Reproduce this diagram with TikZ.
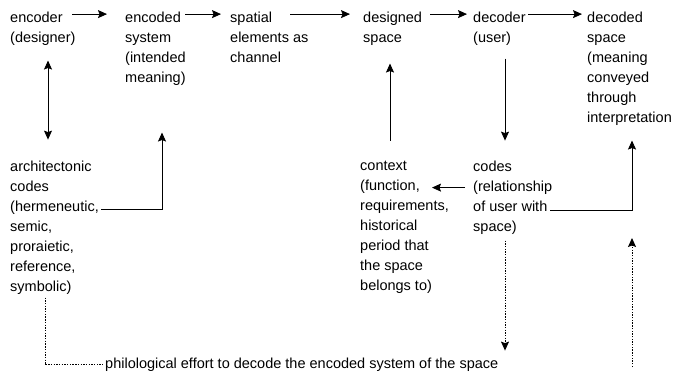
\documentclass[tikz,border=0pt]{standalone}
\usepackage{fontspec}
\setmainfont{Liberation Sans}
\usetikzlibrary{arrows.meta,calc}

\begin{document}
\begin{tikzpicture}[
    x=1pt, y=-1pt,
    term/.style={anchor=north west, align=left, inner sep=0pt,
                 font=\fontsize{14.5}{20}\selectfont},
    arrow/.style={-{Stealth[length=9pt,width=8pt,inset=1.5pt]}, line width=0.8pt},
    twoway/.style={{Stealth[length=9pt,width=8pt,inset=1.5pt]}-{Stealth[length=9pt,width=8pt,inset=1.5pt]}, line width=0.8pt},
    dotline/.style={line width=1pt, dash pattern=on 1.4pt off 1.3pt},
    dotarrow/.style={dotline, -{Stealth[length=9pt,width=8pt,inset=1.5pt]}},
]
\useasboundingbox (0,0) rectangle (683,377);

% Top row: the communication chain
\node[term] (enc)   at (10, 11.6)  {encoder\\(designer)};
\node[term] (sys)   at (125, 11.6) {encoded\\system\\(intended\\meaning)};
\node[term] (chan)  at (230, 11.6) {spatial\\elements as\\channel};
\node[term] (dsp)   at (363, 11.6) {designed\\space};
\node[term] (dec)   at (473, 11.6) {decoder\\(user)};
\node[term] (decsp) at (587, 11.6) {decoded\\space\\(meaning\\conveyed\\through\\interpretation};

\draw[arrow] ([shift={(62,2.5)}]enc.north west) -- ([shift={(-18,2.5)}]sys.north west);
\draw[arrow] ([shift={(60,2.5)}]sys.north west) -- ([shift={(-9,2.5)}]chan.north west);
\draw[arrow] ([shift={(60,2.5)}]chan.north west) -- ([shift={(-13,2.5)}]dsp.north west);
\draw[arrow] ([shift={(67,2.5)}]dsp.north west) -- ([shift={(-6,2.5)}]dec.north west);
\draw[arrow] ([shift={(55,2.5)}]dec.north west) -- ([shift={(-5,2.5)}]decsp.north west);

% Lower row: codes and context
\node[term] (arch)  at (10, 160.6)  {architectonic\\codes\\(hermeneutic,\\semic,\\proraietic,\\reference,\\symbolic)};
\node[term] (ctx)   at (360, 160.6) {context\\(function,\\requirements,\\historical\\period that\\the space\\belongs to)};
\node[term] (codes) at (473, 160.6) {codes\\(relationship\\of user with\\space)};
\node[term] (phil)  at (105, 357.6) {philological effort to decode the encoded system of the space};

\draw[twoway] ([shift={(38,15)}]enc.south west) -- ([shift={(38,-21)}]arch.north west);
\draw[arrow] ([shift={(2,48.5)}]arch.north east) -| ([shift={(37,47)}]sys.south west);
\draw[arrow] ([shift={(30,-20)}]ctx.north west) -- ([shift={(27,18)}]dsp.south west);
\draw[arrow] ([shift={(32,13)}]dec.south west) -- ([shift={(32,-20)}]codes.north west);
\draw[arrow] ([shift={(-8,27)}]codes.north west) -- ([shift={(72,27)}]ctx.north west);
\draw[arrow] ([shift={(77,49.5)}]codes.north west) -| ([shift={(45,15)}]decsp.south west);

% Dotted feedback
\coordinate (feedlow)  at (632, 367);
\coordinate (feedhigh) at (632, 238);
\draw[dotline] ([shift={(35,3)}]arch.south west) |- ([shift={(-2,0)}]phil.west);
\draw[dotarrow] ([shift={(32,6)}]codes.south west) -- ([shift={(400,-7)}]phil.north west);
\draw[dotarrow] (feedlow) -- (feedhigh);
\end{tikzpicture}
\end{document}
